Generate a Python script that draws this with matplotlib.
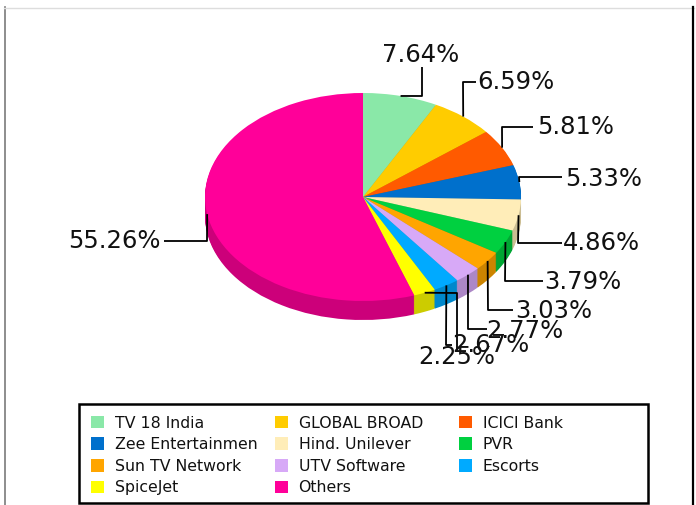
import matplotlib
matplotlib.use("Agg")
import matplotlib.pyplot as plt
from matplotlib.colors import to_rgb
from matplotlib.legend import Legend
from matplotlib.patches import Patch, Rectangle
import numpy as np

# data
companies = ["TV 18 India", "GLOBAL BROAD", "ICICI Bank", "Zee Entertainmen",
             "Hind. Unilever", "PVR", "Sun TV Network", "UTV Software",
             "Escorts", "SpiceJet", "Others"]
shares = [7.64, 6.59, 5.81, 5.33, 4.86, 3.79, 3.03, 2.77, 2.67, 2.25, 55.26]
colors = ["#8AE8A8", "#FFCC00", "#FF5A00", "#0070CC", "#FFEDB8", "#00D040",
          "#FFA500", "#D7A9F7", "#00AAFF", "#FFFF00", "#FF0099"]

# layout (pixels)
W, H = 696, 505
cx, cy, rx, ry, depth = 363, 197, 158, 104, 19

# leader line bends and label anchor per slice: (path points, text x, text y, ha)
label_layout = [
    ([(422, 96), (422, 67)], 421, 55, "center"),
    ([(463, 82), (476, 82)], 477, 82, "left"),
    ([(502, 127), (533, 127)], 537, 127, "left"),
    ([(519, 177), (562, 177)], 565, 179, "left"),
    ([(518, 243), (562, 243)], 563, 243, "left"),
    ([(505, 281), (543, 281)], 544, 282, "left"),
    ([(488, 310), (513, 310)], 515, 311, "left"),
    ([(468, 329), (487, 329)], 486, 331, "left"),
    ([(446, 345), (452, 345)], 452, 345, "left"),
    ([(457, 293), (457, 352)], 418, 357, "left"),
    ([(207, 241), (164, 241)], 161, 241, "right"),
]

fig = plt.figure(figsize=(W / 100, H / 100), dpi=100)

# pie axes in ellipse units: u = (x - cx) / rx, v = (cy - y) / ry
axp = fig.add_axes([0, 0, 1, 1])
side_colors = [tuple(c * 0.8 for c in to_rgb(col)) for col in colors]
for k in range(depth, 0, -1):
    axp.pie(shares, colors=side_colors, startangle=90, counterclock=False,
            radius=1, center=(0, -k / ry), wedgeprops=dict(linewidth=0))
axp.pie(shares, colors=colors, startangle=90, counterclock=False,
        radius=1, center=(0, 0), wedgeprops=dict(linewidth=0))
axp.set_aspect("auto")
axp.set_xlim(-cx / rx, (W - cx) / rx)
axp.set_ylim((cy - H) / ry, cy / ry)
axp.axis("off")

# overlay in pixel coordinates
ax = fig.add_axes([0, 0, 1, 1])
ax.set_xlim(0, W)
ax.set_ylim(H, 0)
ax.axis("off")
ax.patch.set_alpha(0)

cum = np.cumsum([0] + shares[:-1])
for share, start, (path, tx, ty, ha) in zip(shares, cum, label_layout):
    theta = np.deg2rad(90 - (start + share / 2) * 3.6)
    ax0 = cx + rx * np.cos(theta)
    ay0 = cy - ry * np.sin(theta)
    xs = [ax0] + [p[0] for p in path]
    ys = [ay0] + [p[1] for p in path]
    ax.plot(xs, ys, color="black", lw=1.3, solid_capstyle="butt")
    ax.text(tx, ty, f"{share:.2f}%", ha=ha, va="center", fontsize=17.5,
            family="DejaVu Sans", color="#111111")

# outer frame
ax.plot([4.5, 4.5], [7, H], color="#7a7a7a", lw=1.2, clip_on=False)
ax.plot([4, 694], [7.5, 7.5], color="#dddddd", lw=1.0, clip_on=False)
ax.plot([693, 693], [7, H], color="black", lw=1.6, clip_on=False)

# legend box and three legend columns (row-major order in the picture)
ax.add_patch(Rectangle((79, 404), 569, 99, facecolor="white", edgecolor="black",
                       lw=1.8, zorder=1))
col_x = [91, 275, 459]
for c, x0 in enumerate(col_x):
    idx = list(range(c, len(companies), 3))
    handles = [Patch(facecolor=colors[i], edgecolor="none") for i in idx]
    leg = Legend(ax, handles, [companies[i] for i in idx], loc="upper left",
                 bbox_to_anchor=(x0, 415.5), bbox_transform=ax.transData,
                 frameon=False, borderpad=0, borderaxespad=0,
                 fontsize=11.3, handlelength=0.85, handleheight=0.85,
                 handletextpad=0.65, labelspacing=0.42)
    for t in leg.get_texts():
        t.set_color("#111111")
    ax.add_artist(leg)

fig.savefig("out.png", dpi=100)
